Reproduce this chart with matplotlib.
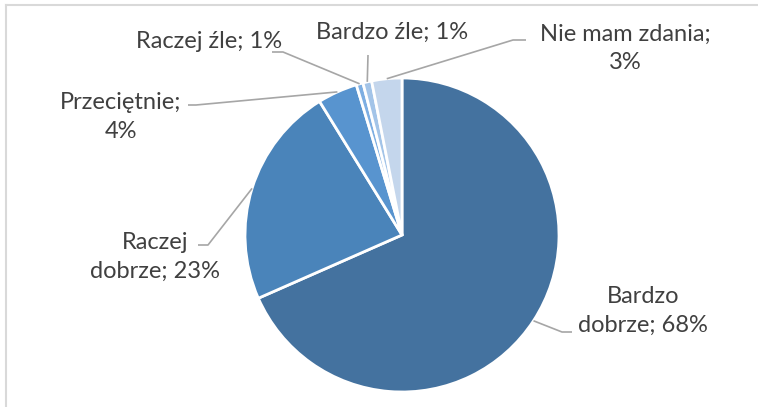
import numpy as np
import matplotlib.pyplot as plt
from matplotlib.lines import Line2D

# values (clockwise from 12 o'clock)
categories = ['Bardzo\ndobrze', 'Raczej\ndobrze', 'Przeciętnie;\n', 'Raczej źle', 'Bardzo źle', 'Nie mam zdania;\n']
values = [68.4, 22.8, 4.1, 0.7, 0.9, 3.1]
colors = ['#44729F', '#4A84BA', '#5894CF', '#7DAEE2', '#A3C4E8', '#C4D6EC']

W, H = 758, 407
CX, CY, R = 402, 235, 157

# label layout (pixel coords, y down): text centre, elbow, end of horizontal stub
label_xy = [(643, 311), (155, 257), (121, 117), (209, 42), (392, 32), (625, 48)]
elbow_xy = [(562, 332), (208, 245), (196, 105), (283, 52), (368, 55), (513, 40)]
stub_xy = [(572, 332), (198, 245), (188, 105), (272, 52), (368, 55), (526, 40)]


def px(x, y):
    return x, H - y


fig = plt.figure(figsize=(W / 100, H / 100), dpi=100)
ax = fig.add_axes([0, 0, 1, 1])

wedges, _ = ax.pie(values, colors=colors, startangle=90, counterclock=False,
                   center=px(CX, CY), radius=R, frame=True,
                   wedgeprops=dict(edgecolor='white', linewidth=2))
ax.set_xlim(0, W)
ax.set_ylim(0, H)
ax.set_aspect('equal')
ax.axis('off')

font = ['Lato', 'DejaVu Sans']
for w, cat, v, txy, exy, sxy in zip(wedges, categories, values, label_xy, elbow_xy, stub_xy):
    ang = np.deg2rad((w.theta1 + w.theta2) / 2)
    x0 = CX + R * np.cos(ang)
    y0 = CY - R * np.sin(ang)
    ax.plot([x0, exy[0], sxy[0]], [H - y0, H - exy[1], H - sxy[1]],
            color='#A6A6A6', lw=1.2, solid_capstyle='butt')
    if cat.endswith('\n'):
        txt = f'{cat}{round(v)}%'
    else:
        txt = f'{cat}; {round(v)}%'
    ax.text(*px(*txy), txt, ha='center', va='center', multialignment='center',
            fontsize=17, color='#404040', family=font, linespacing=1.42)

# chart frame (only top and left edges visible in the crop)
fig.add_artist(Line2D([6 / W, 1], [1 - 5 / H, 1 - 5 / H], color='#D9D9D9', lw=1.5))
fig.add_artist(Line2D([6 / W, 6 / W], [0, 1 - 5 / H], color='#D9D9D9', lw=1.5))

fig.savefig('out.png', dpi=100)
